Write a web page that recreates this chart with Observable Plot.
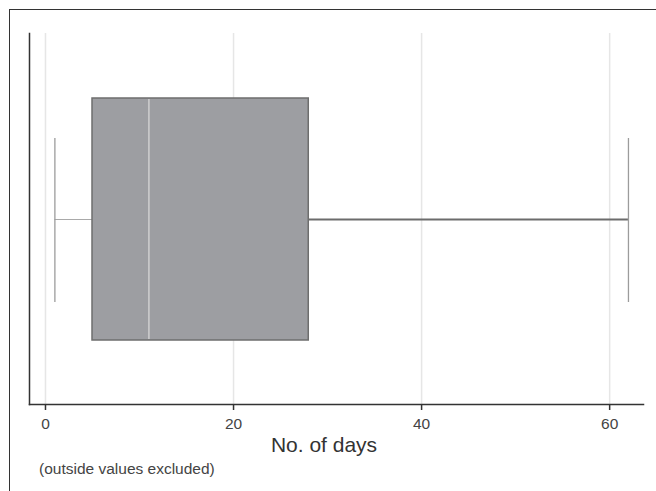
<!DOCTYPE html>
<html>
<head>
<meta charset="utf-8">
<script src="https://cdn.jsdelivr.net/npm/d3@7"></script>
<script src="https://cdn.jsdelivr.net/npm/@observablehq/plot@0.6"></script>
<style>
  html, body { margin: 0; padding: 0; background: #fff; }
  #wrap { position: relative; width: 656px; height: 491px; overflow: hidden; font-family: "Liberation Sans", Arial, Helvetica, sans-serif; }
  #border { position: absolute; left: 9px; top: 9px; width: 700px; height: 600px; border-top: 1.5px solid #333; border-left: 1.5px solid #333; box-sizing: border-box; }
  #chart { position: absolute; left: 0; top: 0; }
  #chart g[aria-label="x-axis tick label"] text { font-size: 15.5px; }
</style>
</head>
<body>
<div id="wrap"><div id="border"></div><div id="chart"></div></div>
<script>
// Data
const groups = ["No. of days"];
const whiskerLow = [1];
const quartile1 = [5];
const medians = [11];
const quartile3 = [28];
const whiskerHigh = [62];
const xTicks = [0, 20, 40, 60];
const xLabel = "No. of days";
const note = "(outside values excluded)";

const rows = groups.map((g, i) => ({
  g, lo: whiskerLow[i], q1: quartile1[i], med: medians[i], q3: quartile3[i], hi: whiskerHigh[i]
}));

const W = 656, H = 491;
const chart = Plot.plot({
  width: W,
  height: H,
  marginLeft: 29,
  marginRight: 13,
  marginTop: 33,
  marginBottom: 87,
  style: { fontFamily: '"Liberation Sans", Arial, Helvetica, sans-serif', background: "transparent", overflow: "visible", fontSize: "15.5px" },
  x: { domain: [-1.7, 63.6], ticks: xTicks },
  y: { domain: groups, type: "band", paddingInner: 0, paddingOuter: 0.265, axis: null },
  marks: [
    Plot.gridX(xTicks, { stroke: "#e6e6e6", strokeOpacity: 1, strokeWidth: 1.5 }),
    Plot.ruleY(rows, { y: "g", x1: "lo", x2: "q1", stroke: "#a9a9a9", strokeWidth: 1.2 }),
    Plot.ruleY(rows, { y: "g", x1: "q3", x2: "hi", stroke: "#6c6c6c", strokeWidth: 2 }),
    Plot.tickX(rows, { y: "g", x: "lo", stroke: "#9c9c9c", strokeWidth: 1.3, insetTop: 40, insetBottom: 38 }),
    Plot.tickX(rows, { y: "g", x: "hi", stroke: "#9c9c9c", strokeWidth: 1.3, insetTop: 40, insetBottom: 38 }),
    Plot.barX(rows, { y: "g", x1: "q1", x2: "q3", fill: "#9d9ea2", stroke: "#6e6e6e", strokeWidth: 1.5 }),
    Plot.tickX(rows, { y: "g", x: "med", stroke: "#cfcfcf", strokeWidth: 1.5, insetTop: 1, insetBottom: 1 }),
    Plot.frame({ anchor: "left", stroke: "#333", strokeWidth: 1.5 }),
    Plot.frame({ anchor: "bottom", stroke: "#333", strokeWidth: 1.5 }),
    Plot.axisX(xTicks, { tickSize: 6, tickPadding: 7, stroke: "#333", strokeWidth: 1.5, fill: "#444", fontSize: 15.5, label: null })
  ]
});
document.getElementById("chart").appendChild(chart);

const svg = d3.select(chart);
svg.append("text")
  .attr("x", 324).attr("y", 451.5)
  .attr("text-anchor", "middle")
  .attr("font-size", 21)
  .attr("fill", "#333")
  .text(xLabel);
svg.append("text")
  .attr("x", 39).attr("y", 473.5)
  .attr("text-anchor", "start")
  .attr("font-size", 15.5)
  .attr("fill", "#444")
  .text(note);
</script>
</body>
</html>
